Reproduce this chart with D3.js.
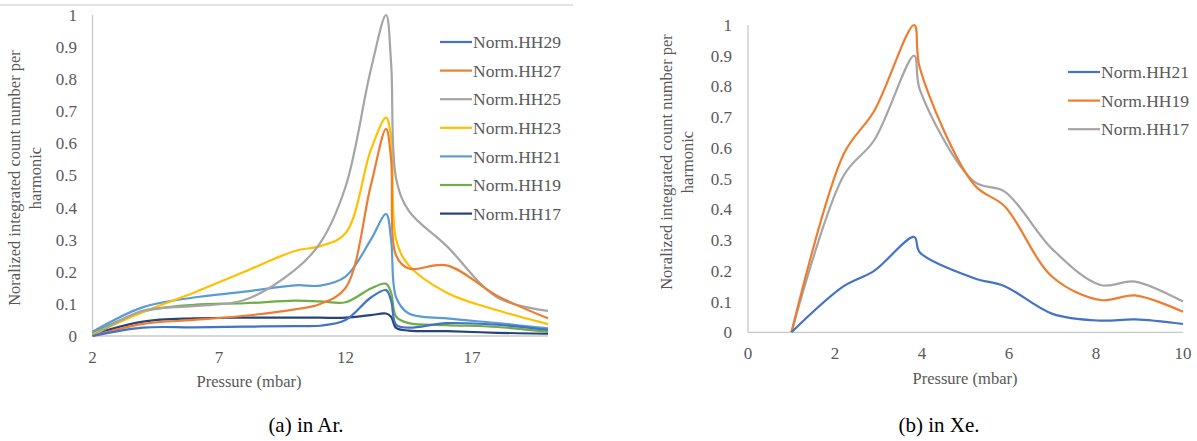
<!DOCTYPE html>
<html>
<head>
<meta charset="utf-8">
<script src="https://cdn.jsdelivr.net/npm/d3@7"></script>
<style>
  body { margin: 0; background: #fff; }
</style>
</head>
<body>
<svg id="chart" width="1197" height="441" font-family="'Liberation Serif', 'DejaVu Serif', serif"></svg>
<script>
// pressures (mbar) where the argon data was taken
var arPressure = [2, 4, 6, 8, 10, 11, 12, 13, 13.6, 13.8, 14, 14.5, 16, 18, 20];
var arHH29 = [0, 0.026, 0.027, 0.029, 0.031, 0.032, 0.05, 0.12, 0.143, 0.11, 0.035, 0.026, 0.04, 0.035, 0.019];
var arHH27 = [0, 0.038, 0.05, 0.063, 0.083, 0.1, 0.15, 0.47, 0.645, 0.55, 0.25, 0.21, 0.22, 0.125, 0.055];
var arHH25 = [0, 0.079, 0.093, 0.112, 0.206, 0.29, 0.465, 0.83, 1.0, 0.85, 0.49, 0.39, 0.28, 0.12, 0.078];
var arHH23 = [0.005, 0.075, 0.135, 0.2, 0.265, 0.28, 0.32, 0.58, 0.68, 0.62, 0.3, 0.22, 0.135, 0.08, 0.037];
var arHH21 = [0.013, 0.09, 0.12, 0.138, 0.158, 0.157, 0.185, 0.3, 0.38, 0.3, 0.12, 0.07, 0.055, 0.04, 0.024];
var arHH19 = [0.008, 0.076, 0.097, 0.102, 0.11, 0.108, 0.105, 0.148, 0.163, 0.135, 0.06, 0.04, 0.034, 0.028, 0.013];
var arHH17 = [0.005, 0.045, 0.055, 0.057, 0.057, 0.057, 0.057, 0.065, 0.07, 0.06, 0.025, 0.017, 0.015, 0.01, 0.007];

// xenon data
var xePressure = [1, 2.2, 2.9, 3.82, 3.95, 5.2, 5.9, 7, 8.1, 8.9, 10];
var xeHH21 = [0, 0.15, 0.2, 0.31, 0.26, 0.176, 0.15, 0.06, 0.038, 0.042, 0.027];
var xeHH19 = [0, 0.58, 0.72, 1.0, 0.86, 0.48, 0.41, 0.18, 0.105, 0.12, 0.067];
var xeHH17 = [0, 0.51, 0.625, 0.9, 0.79, 0.49, 0.458, 0.27, 0.154, 0.165, 0.1];

var arNames = ["Norm.HH29", "Norm.HH27", "Norm.HH25", "Norm.HH23", "Norm.HH21", "Norm.HH19", "Norm.HH17"];
var xeNames = ["Norm.HH21", "Norm.HH19", "Norm.HH17"];
var arColors = ["#4472c4", "#ed7d31", "#a5a5a5", "#ffc000", "#5b9bd5", "#70ad47", "#264478"];
var xeColors = ["#4472c4", "#ed7d31", "#a5a5a5"];

var arTicksX = [2, 7, 12, 17];
var xeTicksX = [0, 2, 4, 6, 8, 10];
var ticksY = [0, 0.1, 0.2, 0.3, 0.4, 0.5, 0.6, 0.7, 0.8, 0.9, 1];

var yTitle1 = "Noralized integrated count number per";
var yTitle2 = "harmonic";
var xTitle = "Pressure (mbar)";

var svg = d3.select("#chart");
var axisColor = "#c8c8c8";
var textColor = "#595959";
var serif = "'Liberation Serif', 'DejaVu Serif', serif";

// draws one panel: axes, lines, legend
function drawPanel(opt) {
    var x = d3.scaleLinear().domain(opt.xDomain).range(opt.xRange);
    var y = d3.scaleLinear().domain([0, 1]).range(opt.yRange);
    var g = svg.append("g").attr("font-family", serif);

    // y axis line + labels
    g.append("line")
    .attr("x1", opt.xRange[0]).attr("x2", opt.xRange[0])
    .attr("y1", y(0)).attr("y2", y(1))
    .attr("stroke", axisColor).attr("stroke-width", 1.3);
    g.selectAll(".ylab").data(ticksY).enter().append("text")
    .attr("x", opt.yLabelX)
    .attr("y", function(d) { return y(d); })
    .attr("dy", "0.35em")
    .attr("text-anchor", "end")
    .attr("font-size", 17)
    .attr("fill", textColor)
    .text(function(d) { return d3.format("~g")(d); });

    // x axis line + labels
    g.append("line")
    .attr("x1", opt.xRange[0]).attr("x2", opt.xRange[1])
    .attr("y1", y(0)).attr("y2", y(0))
    .attr("stroke", axisColor).attr("stroke-width", 1.3);
    g.selectAll(".xlab").data(opt.xTicks).enter().append("text")
    .attr("x", function(d) { return x(d); })
    .attr("y", opt.xLabelY)
    .attr("dy", "0.35em")
    .attr("text-anchor", "middle")
    .attr("font-size", 17)
    .attr("fill", textColor)
    .text(function(d) { return d; });

    g.append("text")
    .attr("x", opt.xTitleX).attr("y", opt.xTitleY)
    .attr("dy", "0.35em")
    .attr("text-anchor", "middle")
    .attr("font-size", 16.5)
    .attr("fill", textColor)
    .text(xTitle);

    // rotated y title, two lines
    var t = g.append("text")
    .attr("transform", "translate(" + opt.yTitleX + "," + opt.yTitleY + ") rotate(-90)")
    .attr("text-anchor", "middle")
    .attr("font-size", 16.5)
    .attr("fill", textColor);
    t.append("tspan").attr("x", 0).attr("y", 0).text(yTitle1);
    t.append("tspan").attr("x", 0).attr("y", 21).text(yTitle2);

    var line = d3.line()
    .x(function(d) { return x(d[0]); })
    .y(function(d) { return y(d[1]); })
    .curve(d3.curveCatmullRom.alpha(0.5));

    // draw last series first so the first one is on top like excel
    for (var i = opt.series.length - 1; i >= 0; i--) {
        var pts = d3.zip(opt.xs, opt.series[i]);
        g.append("path")
        .attr("d", line(pts))
        .attr("fill", "none")
        .attr("stroke", opt.colors[i])
        .attr("stroke-width", 2.2)
        .attr("stroke-linejoin", "round");
    }

    // legend
    for (var j = 0; j < opt.names.length; j++) {
        var ly = opt.legY + j * 28.6;
        g.append("line")
        .attr("x1", opt.legX).attr("x2", opt.legX + 32)
        .attr("y1", ly).attr("y2", ly)
        .attr("stroke", opt.colors[j]).attr("stroke-width", 2.2);
        g.append("text")
        .attr("x", opt.legX + 33).attr("y", ly)
        .attr("dy", "0.35em")
        .attr("font-size", 17.5)
        .attr("fill", textColor)
        .text(opt.names[j]);
    }
}

// frame line on top of left chart
svg.append("line")
.attr("x1", 0).attr("x2", 573).attr("y1", 5).attr("y2", 5)
.attr("stroke", "#d9d9d9").attr("stroke-width", 1.3);

drawPanel({
    xDomain: [2, 20], xRange: [92.5, 548], yRange: [336, 15],
    xs: arPressure,
    series: [arHH29, arHH27, arHH25, arHH23, arHH21, arHH19, arHH17],
    names: arNames, colors: arColors, xTicks: arTicksX,
    yLabelX: 77, xLabelY: 357, xTitleX: 249, xTitleY: 381,
    yTitleX: 20, yTitleY: 178,
    legX: 440, legY: 42
});

drawPanel({
    xDomain: [0, 10], xRange: [748, 1183], yRange: [332.3, 25],
    xs: xePressure,
    series: [xeHH21, xeHH19, xeHH17],
    names: xeNames, colors: xeColors, xTicks: xeTicksX,
    yLabelX: 732, xLabelY: 353, xTitleX: 965, xTitleY: 378,
    yTitleX: 672, yTitleY: 162,
    legX: 1068, legY: 72
});

// sub captions
svg.selectAll(".cap").data([["(a) in Ar.", 306], ["(b) in Xe.", 939]]).enter().append("text")
.attr("x", function(d) { return d[1]; }).attr("y", 425).attr("dy", "0.35em")
.attr("text-anchor", "middle").attr("font-size", 21).attr("fill", "#000")
.attr("font-family", serif)
.text(function(d) { return d[0]; });
</script>
</body>
</html>
